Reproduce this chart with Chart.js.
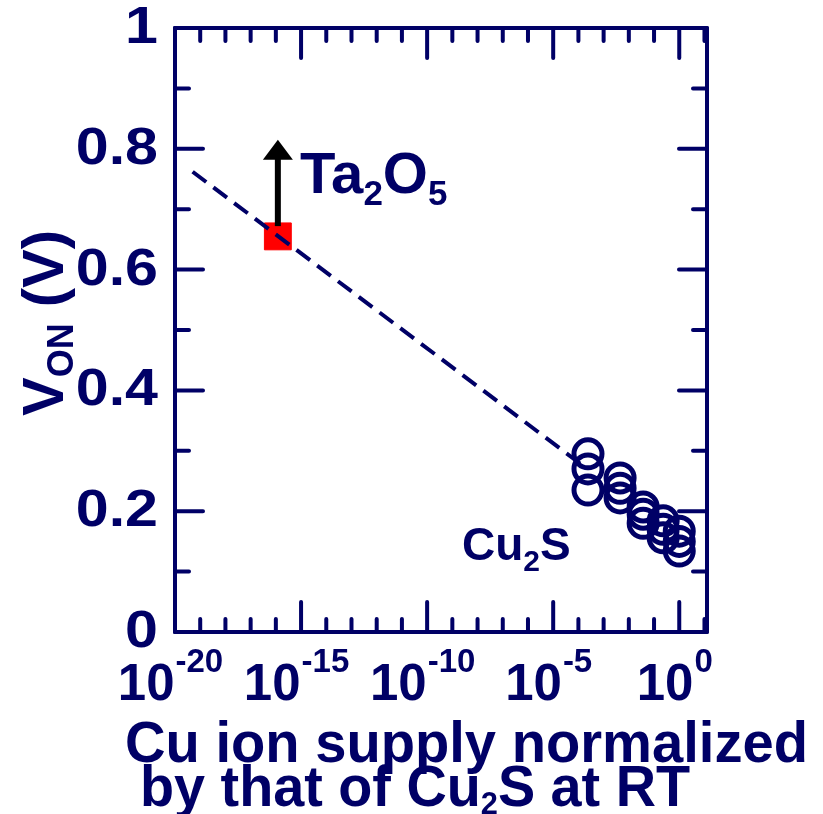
<!DOCTYPE html>
<html>
<head>
<meta charset="utf-8">
<script src="https://cdn.jsdelivr.net/npm/chart.js@4.4.1/dist/chart.umd.min.js"></script>
<style>
  html, body { margin: 0; padding: 0; background: #fff; }
  #wrap { width: 823px; height: 814px; position: relative; }
</style>
</head>
<body>
<div id="wrap"><canvas id="myChart"></canvas></div>
<script>
// data
const cu2sX = [2.4e-4, 2.4e-4, 2.4e-4, 4.5e-3, 4.5e-3, 4.5e-3, 0.037, 0.037, 0.037, 0.23, 0.23, 0.23, 1, 1, 1];
const cu2sY = [0.295, 0.27, 0.235, 0.255, 0.238, 0.222, 0.207, 0.195, 0.18, 0.184, 0.17, 0.156, 0.167, 0.15, 0.134];

const ta2o5X = [1.2e-16];
const ta2o5Y = [0.655];

// dashed guide line
const fitX = [5e-20, 1.8e-4];
const fitY = [0.762, 0.273];

// arrow above the Ta2O5 point
const arrowX = [1.2e-16, 1.2e-16];
const arrowY = [0.672, 0.785];
const arrowTipY = 0.815;

const yTicks = [0, 0.2, 0.4, 0.6, 0.8, 1];
const yTickLabels = ['0', '0.2', '0.4', '0.6', '0.8', '1'];
const xTickExps = [-20, -15, -10, -5, 0];

const NAVY = '#000066';
const FONT = '"Liberation Sans", Arial, sans-serif';

function pts(xs, ys) {
  return xs.map((x, i) => ({x: x, y: ys[i]}));
}

// frame + inward ticks, drawn under the points
const framePlugin = {
  id: 'frame',
  beforeDatasetsDraw(chart) {
    const ctx = chart.ctx;
    const a = chart.chartArea;
    const xs = chart.scales.x, ys = chart.scales.y;
    ctx.save();
    ctx.strokeStyle = NAVY;
    ctx.lineWidth = 4;
    ctx.lineCap = 'round';
    ctx.lineJoin = 'round';
    ctx.strokeRect(a.left, a.top, a.right - a.left, a.bottom - a.top);

    // x ticks every decade, long ones every 5
    for (let e = -20; e <= 1; e++) {
      const px = xs.getPixelForValue(Math.pow(10, e));
      if (px < a.left - 1 || px > a.right + 1) continue;
      const len = (e % 5 === 0) ? 30 : 13;
      ctx.beginPath();
      ctx.moveTo(px, a.bottom); ctx.lineTo(px, a.bottom - len);
      ctx.moveTo(px, a.top); ctx.lineTo(px, a.top + len);
      ctx.stroke();
    }
    // y ticks every 0.1
    for (let i = 0; i <= 10; i++) {
      const py = ys.getPixelForValue(i / 10);
      const len = (i % 2 === 0) ? 28 : 14;
      ctx.beginPath();
      ctx.moveTo(a.left, py); ctx.lineTo(a.left + len, py);
      ctx.moveTo(a.right, py); ctx.lineTo(a.right - len, py);
      ctx.stroke();
    }
    ctx.restore();
  }
};

// arrow head + all the text
const textPlugin = {
  id: 'texts',
  afterDatasetsDraw(chart) {
    const ctx = chart.ctx;
    const xs = chart.scales.x, ys = chart.scales.y;
    ctx.save();

    // arrow head
    const ax = xs.getPixelForValue(arrowX[0]);
    const tip = ys.getPixelForValue(arrowTipY);
    ctx.fillStyle = '#000';
    ctx.beginPath();
    ctx.moveTo(ax, tip);
    ctx.lineTo(ax - 15, tip + 20);
    ctx.lineTo(ax + 15, tip + 20);
    ctx.closePath();
    ctx.fill();
    ctx.restore();
  },
  afterDraw(chart) {
    const ctx = chart.ctx;
    const xs = chart.scales.x, ys = chart.scales.y;
    ctx.save();
    ctx.fillStyle = NAVY;

    // y tick labels, a bit wider than plain bold
    ctx.font = 'bold 51px ' + FONT;
    ctx.textAlign = 'right';
    ctx.textBaseline = 'middle';
    yTicks.forEach((v, i) => {
      ctx.save();
      ctx.translate(158, ys.getPixelForValue(v) + 1);
      ctx.scale(1.16, 1);
      ctx.fillText(yTickLabels[i], 0, 0);
      ctx.restore();
    });

    // x tick labels 10^n
    ctx.textAlign = 'left';
    ctx.textBaseline = 'alphabetic';
    xTickExps.forEach(e => {
      const px = xs.getPixelForValue(Math.pow(10, e));
      ctx.font = 'bold 51px ' + FONT;
      const w1 = ctx.measureText('10').width;
      ctx.font = 'bold 33px ' + FONT;
      const sup = (e < 0 ? '-' : '') + Math.abs(e);
      const w2 = ctx.measureText(sup).width;
      const x0 = px - 5 - (w1 + w2) / 2;
      ctx.font = 'bold 51px ' + FONT;
      ctx.fillText('10', x0, 700);
      ctx.font = 'bold 33px ' + FONT;
      ctx.fillText(sup, x0 + w1 + 1, 672);
    });

    // in-plot labels
    drawSub(ctx, [['Ta', 58, 0], ['2', 35, 12], ['O', 58, 0], ['5', 35, 12]], 300, 193);
    drawSub(ctx, [['Cu', 46, 0], ['2', 30, 11], ['S', 46, 0]], 462, 560);

    // x title
    drawFit(ctx, [['Cu ion supply normalized', 58, 0]], 125, 762, 683);
    drawFit(ctx, [['by that of Cu', 58, 0], ['2', 32, 8], ['S at RT', 58, 0]], 140, 806, 550);

    // y title rotated
    ctx.save();
    ctx.translate(63, 323);
    ctx.rotate(-Math.PI / 2);
    const parts = [['V', 58, 0], ['ON', 36, 10], [' (V)', 58, 0]];
    let tw = 0;
    parts.forEach(p => { ctx.font = 'bold ' + p[1] + 'px ' + FONT; tw += ctx.measureText(p[0]).width; });
    drawSub(ctx, parts, -tw / 2, 0);
    ctx.restore();

    ctx.restore();
  }
};

function drawSub(ctx, parts, x, y) {
  ctx.textAlign = 'left';
  ctx.textBaseline = 'alphabetic';
  parts.forEach(p => {
    ctx.font = 'bold ' + p[1] + 'px ' + FONT;
    ctx.fillText(p[0], x, y + p[2]);
    x += ctx.measureText(p[0]).width;
  });
}

// squeeze a line of text into a given width
function drawFit(ctx, parts, x, y, width) {
  let tw = 0;
  parts.forEach(p => { ctx.font = 'bold ' + p[1] + 'px ' + FONT; tw += ctx.measureText(p[0]).width; });
  ctx.save();
  ctx.translate(x, y);
  ctx.scale(width / tw, 1);
  drawSub(ctx, parts, 0, 0);
  ctx.restore();
}

const ctx = document.getElementById('myChart').getContext('2d');
const myChart = new Chart(ctx, {
  type: 'scatter',
  data: {
    datasets: [
      {
        label: 'guide',
        data: pts(fitX, fitY),
        showLine: true,
        borderColor: NAVY,
        borderWidth: 4,
        borderDash: [17, 9],
        pointRadius: 0
      },
      {
        label: 'arrow',
        data: pts(arrowX, arrowY),
        showLine: true,
        borderColor: '#000',
        borderWidth: 6,
        pointRadius: 0
      },
      {
        label: 'Ta2O5',
        data: pts(ta2o5X, ta2o5Y),
        pointStyle: 'rect',
        pointRadius: 19,
        backgroundColor: '#ff0000',
        borderColor: '#ff0000',
        borderWidth: 1
      },
      {
        label: 'Cu2S',
        data: pts(cu2sX, cu2sY),
        pointStyle: 'circle',
        pointRadius: 14,
        borderWidth: 5,
        borderColor: NAVY,
        backgroundColor: 'rgba(0,0,0,0)'
      }
    ]
  },
  options: {
    responsive: true,
    maintainAspectRatio: false,
    animation: false,
    layout: { padding: { left: 175, right: 116, top: 28, bottom: 182 } },
    plugins: {
      legend: { display: false },
      tooltip: { enabled: false }
    },
    scales: {
      x: { type: 'logarithmic', min: 1e-20, max: 12.6, display: false },
      y: { type: 'linear', min: 0, max: 1, display: false }
    }
  },
  plugins: [framePlugin, textPlugin]
});
</script>
</body>
</html>
